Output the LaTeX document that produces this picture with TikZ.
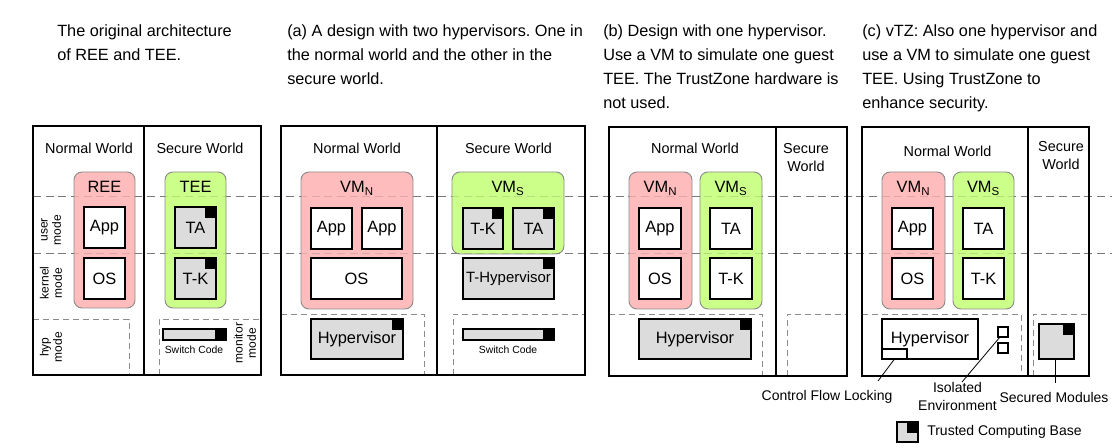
\documentclass[tikz,border=0pt]{standalone}
\usepackage{fontspec}
\setmainfont{Liberation Sans}
\frenchspacing
\definecolor{pinkfill}{HTML}{FFBCBC}
\definecolor{greenfill}{HTML}{CCFF8A}
\definecolor{vmborder}{HTML}{8A8A8A}
\definecolor{tcbgray}{HTML}{DCDCDC}
\definecolor{dashgray}{HTML}{8C8C8C}
\newcommand{\bx}[7]{\node[#1, minimum width={(#5-#3)*0.75pt}, minimum height={(#6-#4)*0.75pt}] (#2) at ({(#3+#5)/2},{(#4+#6)/2}) {#7};}
\newcommand{\tcbmark}[1]{\fill ([xshift=-8.25pt,yshift=-8.25pt]#1.north east) rectangle (#1.north east);}
\begin{document}
\frenchspacing
\begin{tikzpicture}[x=0.75pt,y=-0.75pt,
  panelframe/.style={draw, line width=2pt, inner sep=0pt, outer sep=0pt},
  worldlbl/.style={font=\fontsize{10.8}{13.5}\selectfont, align=center},
  plainbox/.style={draw, fill=white, line width=1.1pt, inner sep=0pt, outer sep=0pt, font=\fontsize{12.3}{14}\selectfont},
  tcbbox/.style={plainbox, fill=tcbgray},
  vmnbox/.style={draw=vmborder, fill=pinkfill, rounded corners=6pt, line width=0.7pt, inner sep=0pt, outer sep=0pt},
  vmsbox/.style={vmnbox, fill=greenfill},
  vmlbl/.style={font=\fontsize{12.3}{14}\selectfont, anchor=base},
  dashline/.style={draw=dashgray, dash pattern=on 6pt off 3.5pt, line width=0.7pt},
  lightdash/.style={draw=black, draw opacity=0.12, dash pattern=on 6pt off 3.5pt, line width=0.7pt},
  hypdash/.style={draw=dashgray, dash pattern=on 4.5pt off 3pt, line width=0.6pt},
  modelbl/.style={rotate=90, align=center, font=\fontsize{9}{10}\selectfont},
  smalllbl/.style={font=\fontsize{7.8}{9}\selectfont},
  captionlbl/.style={anchor=north west, align=left, inner sep=0pt, font=\fontsize{12.2}{18}\selectfont},
  leaderlbl/.style={font=\fontsize{10.5}{14}\selectfont, align=center},
  divider/.style={line width=0.8pt}
]
\useasboundingbox (0,0) rectangle (1119,448);

% captions
\node[captionlbl] (cap0) at (57,24) {The original architecture\\of REE and TEE.};
\node[captionlbl] (capa) at (287,24) {(a) A design with two hypervisors. One in\\the normal world and the other in the\\secure world.};
\node[captionlbl] (capb) at (603,24) {(b) Design with one hypervisor.\\Use a VM to simulate one guest\\TEE. The TrustZone hardware is\\not used.};
\node[captionlbl] (capc) at (862,24) {(c) vTZ: Also one hypervisor and\\use a VM to simulate one guest\\TEE. Using TrustZone to\\enhance security.};

% hyp / monitor dashed regions
\draw[hypdash] (33,319) -- (129,319) -- (129,375);
\draw[hypdash] (159,375) -- (159,319) -- (261,319);
\draw[hypdash] (281,314) -- (424,314) -- (424,375);
\draw[hypdash] (453,375) -- (453,314) -- (585,314);
\draw[hypdash] (609,314) -- (762,314) -- (762,376);
\draw[hypdash] (787,376) -- (787,314) -- (847,314);
\draw[hypdash] (862,314) -- (1021,314) -- (1021,376);
\draw[hypdash] (1033,376) -- (1033,314) -- (1089,314);

% mode separators (behind)
\draw[dashline] (33,196.5) -- (1112,196.5);
\draw[dashline] (33,253) -- (1112,253);

% VM boxes
\bx{vmnbox}{ree}{74}{172}{135}{308}{}
\bx{vmsbox}{tee}{165}{172}{226}{308}{}
\bx{vmnbox}{vmna}{301}{172}{413}{309}{}
\bx{vmsbox}{vmsa}{452}{172}{564}{254}{}
\bx{vmnbox}{vmnb}{629}{172}{692}{309}{}
\bx{vmsbox}{vmsb}{700}{172}{762}{309}{}
\bx{vmnbox}{vmnc}{882}{172}{945}{309}{}
\bx{vmsbox}{vmsc}{953}{172}{1014}{309}{}

% mode separators (over the VM boxes, faint)
\draw[lightdash] (33,196.5) -- (1112,196.5);
\draw[lightdash] (33,253) -- (1112,253);

% frames
\bx{panelframe}{frame0}{33}{126}{261}{375}{}
\bx{panelframe}{framea}{281}{126}{585}{375}{}
\bx{panelframe}{frameb}{609}{127}{847}{376}{}
\bx{panelframe}{framec}{862}{127}{1089}{376}{}
\draw[divider] (144,126) -- (144,375);
\draw[divider] (437,126) -- (437,375);
\draw[divider] (776,127) -- (776,376);
\draw[divider] (1028,127) -- (1028,376);

% world labels
\node[worldlbl, anchor=base] (nw0) at (89,154) {Normal World};
\node[worldlbl, anchor=base] (sw0) at (200,154) {Secure World};
\node[worldlbl, anchor=base] (nwa) at (357,154) {Normal World};
\node[worldlbl, anchor=base] (swa) at (508.5,154) {Secure World};
\node[worldlbl, anchor=base] (nwb) at (695,154) {Normal World};
\node[worldlbl] (swb) at (806,158) {Secure\\World};
\node[worldlbl, anchor=base] (nwc) at (947.5,156.5) {Normal World};
\node[worldlbl] (swc) at (1061,156) {Secure\\World};

% mode labels
\node[modelbl] (um) at (51,230) {user\\mode};
\node[modelbl] (km) at (51,283) {kernel\\mode};
\node[modelbl] (hm) at (51,347) {hyp\\mode};
\node[modelbl] (mm) at (245,343) {monitor\\mode};

% VM labels
\node[vmlbl] (reel) at (104.5,192.5) {REE};
\node[vmlbl] (teel) at (195.5,192.5) {TEE};
\node[vmlbl] (vmnal) at (357,193) {VM\textsubscript{N}};
\node[vmlbl] (vmsal) at (508,193) {VM\textsubscript{S}};
\node[vmlbl] (vmnbl) at (660.5,193) {VM\textsubscript{N}};
\node[vmlbl] (vmsbl) at (731,193) {VM\textsubscript{S}};
\node[vmlbl] (vmncl) at (913.5,193) {VM\textsubscript{N}};
\node[vmlbl] (vmscl) at (983.5,193) {VM\textsubscript{S}};

% panel 0 boxes
\bx{plainbox}{app0}{84}{207}{125}{248}{App}
\bx{plainbox}{os0}{84}{258}{125}{299}{OS}
\bx{tcbbox}{ta0}{175}{207}{216}{248}{TA}
\bx{tcbbox}{tk0}{175}{258}{216}{299}{T-K}
\tcbmark{ta0}\tcbmark{tk0}
\bx{plainbox, fill=tcbgray, line width=1pt}{sc0}{163}{329}{226}{340}{}
\fill ([xshift=-8pt]sc0.north east) rectangle (sc0.south east);
\node[smalllbl] (sc0l) at (194,350) {Switch Code};

% panel a boxes
\bx{plainbox}{app1a}{311}{208}{352}{249}{App}
\bx{plainbox}{app2a}{362}{208}{402}{249}{App}
\bx{plainbox}{osa}{311}{258}{402}{299}{OS}
\bx{tcbbox}{tka}{463}{208}{503}{249}{T-K}
\bx{tcbbox}{taa}{513}{208}{554}{249}{TA}
\bx{tcbbox, font=\fontsize{11.2}{13}\selectfont}{thypa}{463}{258}{554}{299}{T-Hypervisor}
\bx{tcbbox}{hypa}{311}{319}{403}{359}{Hypervisor}
\tcbmark{tka}\tcbmark{taa}\tcbmark{thypa}\tcbmark{hypa}
\bx{plainbox, fill=tcbgray, line width=1pt}{sca}{463}{329}{554}{340}{}
\fill ([xshift=-8pt]sca.north east) rectangle (sca.south east);
\node[smalllbl] (scal) at (508,350) {Switch Code};

% panel b boxes
\bx{plainbox}{appb}{639}{208}{681}{249}{App}
\bx{plainbox}{osb}{639}{258}{681}{299}{OS}
\bx{plainbox}{tab}{710}{208}{752}{249}{TA}
\bx{plainbox}{tkb}{710}{258}{752}{299}{T-K}
\bx{tcbbox}{hypb}{639}{319}{751}{359}{Hypervisor}
\tcbmark{hypb}

% panel c boxes
\bx{plainbox}{appc}{892}{208}{933}{249}{App}
\bx{plainbox}{osc}{892}{258}{933}{299}{OS}
\bx{plainbox}{tac}{963}{208}{1004}{249}{TA}
\bx{plainbox}{tkc}{963}{258}{1004}{299}{T-K}
\bx{plainbox}{hypc}{882}{319}{978}{359}{}
\node[font=\fontsize{12.3}{14}\selectfont] (hypcl) at (930,339) {Hypervisor};
\bx{plainbox}{cfl}{882}{349}{907}{359}{}
\bx{plainbox, line width=0.9pt}{iso1}{998}{327}{1008}{337}{}
\bx{plainbox, line width=0.9pt}{iso2}{998}{343}{1008}{353}{}
\bx{tcbbox}{secm}{1039}{324}{1074}{359}{}
\tcbmark{secm}

% leader labels and lines
\node[leaderlbl] (cfll) at (827,397) {Control Flow Locking};
\node[leaderlbl] (isol) at (957.5,396.5) {Isolated\\Environment};
\node[leaderlbl] (secl) at (1054,397) {Secured Modules};
\coordinate (cflend) at (878,381);
\coordinate (isostart) at (1000,337);
\coordinate (isoend) at (962,382);
\coordinate (secend) at (1055,383);
\draw[line width=0.6pt] (cfl.south) -- (cflend);
\draw[line width=0.6pt] (isostart) -- (isoend);
\draw[line width=0.6pt] (secm.south -| secend) -- (secend);

% legend
\bx{tcbbox}{legicon}{897}{422}{918}{442}{}
\tcbmark{legicon}
\node[leaderlbl, anchor=west, inner sep=0pt] (legl) at (927,432) {Trusted Computing Base};
\end{tikzpicture}
\end{document}
